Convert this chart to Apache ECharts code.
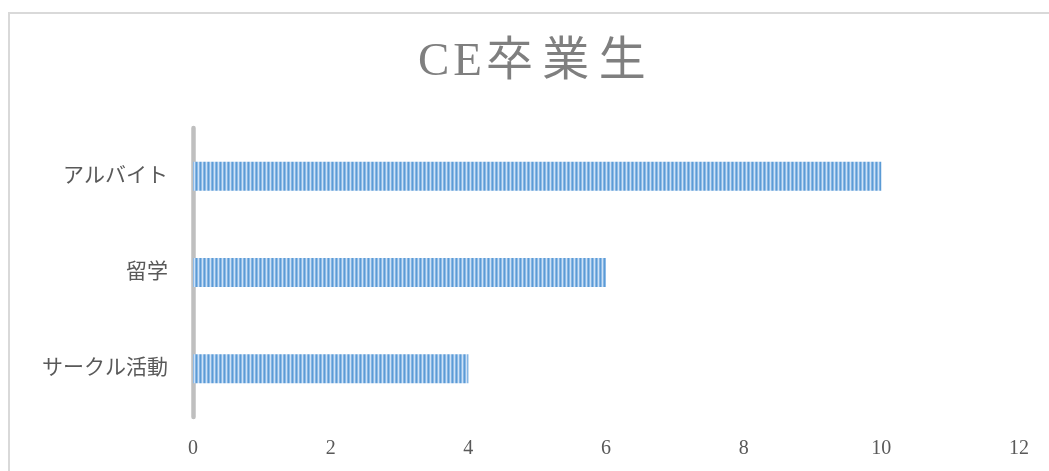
<!DOCTYPE html>
<html>
<head>
<meta charset="utf-8">
<style>
  html, body { margin: 0; padding: 0; background: #ffffff; }
  #chart { width: 1049px; height: 471px; }
</style>
<script src="https://cdn.jsdelivr.net/npm/echarts@6/dist/echarts.min.js"></script>
</head>
<body>
<div id="chart"></div>
<script>
// Categories (bottom to top as drawn on the category axis)
const categories = ['サークル活動', '留学', 'アルバイト'];
const counts = [4, 6, 10];
const titleText = 'C\u200AE\u200A卒\u2009業\u2009生';

// Vertical-stripe fill for the bars
function stripePattern() {
  const c = document.createElement('canvas');
  c.width = 4; c.height = 4;
  const ctx = c.getContext('2d');
  const cols = ['#5b9bd5', '#8fbbe7', '#cfe2f5', '#86b5e4'];
  cols.forEach((col, i) => { ctx.fillStyle = col; ctx.fillRect(i, 0, 1, 4); });
  return c;
}

const chart = echarts.init(document.getElementById('chart'), null, { renderer: 'canvas' });
const serif = '"Liberation Serif", "DejaVu Serif", "Noto Sans CJK JP", serif';

chart.setOption({
  animation: false,
  backgroundColor: '#ffffff',
  graphic: [{
    type: 'rect',
    shape: { x: 9, y: 13, width: 1060, height: 480 },
    style: { fill: 'none', stroke: '#d9d9d9', lineWidth: 2 },
    silent: true
  }],
  title: {
    text: titleText,
    left: 413,
    top: 34,
    textStyle: { fontFamily: serif, fontSize: 47, fontWeight: 'normal', color: '#7f7f7f' }
  },
  grid: { left: 193, right: 30, top: 128, bottom: 54, containLabel: false },
  xAxis: {
    type: 'value',
    min: 0, max: 12, interval: 2,
    axisLine: { show: false },
    axisTick: { show: false },
    splitLine: { show: false },
    axisLabel: { margin: 22, fontFamily: serif, fontSize: 20, color: '#595959' }
  },
  yAxis: {
    type: 'category',
    data: categories,
    axisLine: { show: true, lineStyle: { color: '#bfbfbf', width: 4.5 } },
    axisTick: { show: false },
    axisLabel: { margin: 25, fontFamily: serif, fontSize: 21, color: '#595959' }
  },
  series: [{
    type: 'bar',
    data: counts,
    barWidth: 29,
    itemStyle: { color: { image: stripePattern(), repeat: 'repeat' } }
  }]
});
</script>
</body>
</html>
